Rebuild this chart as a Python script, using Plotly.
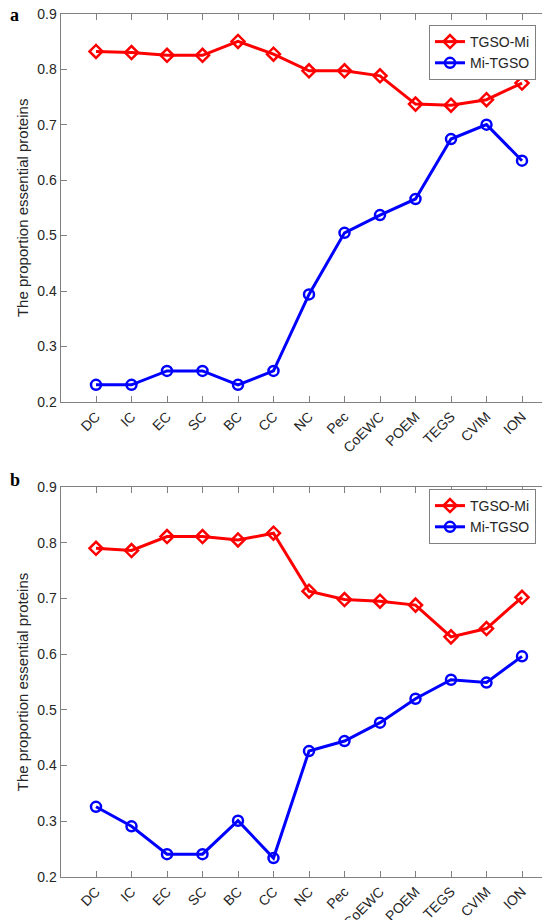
import plotly.graph_objects as go

categories = ["DC", "IC", "EC", "SC", "BC", "CC", "NC", "Pec", "CoEWC", "POEM", "TEGS", "CVIM", "ION"]

a_tgso_mi = [0.832, 0.830, 0.825, 0.825, 0.850, 0.827, 0.797, 0.797, 0.788, 0.737, 0.735, 0.745, 0.775]
a_mi_tgso = [0.231, 0.231, 0.256, 0.256, 0.231, 0.256, 0.394, 0.505, 0.537, 0.566, 0.674, 0.700, 0.635]

b_tgso_mi = [0.790, 0.786, 0.811, 0.811, 0.805, 0.817, 0.713, 0.698, 0.695, 0.688, 0.631, 0.646, 0.702]
b_mi_tgso = [0.326, 0.291, 0.241, 0.241, 0.301, 0.234, 0.426, 0.444, 0.477, 0.520, 0.554, 0.549, 0.596]

y_ticks = [0.2, 0.3, 0.4, 0.5, 0.6, 0.7, 0.8, 0.9]
y_title = "The proportion essential proteins"

xpos = list(range(1, len(categories) + 1))

FONT = "Liberation Sans, Arial, sans-serif"
TXT = "#262626"
AX = "#808080"

fig = go.Figure()

def add_pair(tg, mi, xa, ya, leg):
    fig.add_trace(go.Scatter(
        x=xpos, y=tg, name="TGSO-Mi", mode="lines+markers",
        line=dict(color="#ff0000", width=3),
        marker=dict(symbol="diamond-open", size=10, color="#ff0000", line=dict(width=2.5, color="#ff0000")),
        xaxis=xa, yaxis=ya, legend=leg, showlegend=True))
    fig.add_trace(go.Scatter(
        x=xpos, y=mi, name="Mi-TGSO", mode="lines+markers",
        line=dict(color="#0000ff", width=3),
        marker=dict(symbol="circle-open", size=10, color="#0000ff", line=dict(width=2.5, color="#0000ff")),
        xaxis=xa, yaxis=ya, legend=leg, showlegend=True))

add_pair(a_tgso_mi, a_mi_tgso, "x", "y", "legend")
add_pair(b_tgso_mi, b_mi_tgso, "x2", "y2", "legend2")

W, H = 550, 920
xdom = [52.5 / W, 549.5 / W]
ydom_a = [1 - 394 / H, 1 - 5.7 / H]
ydom_b = [1 - 869 / H, 1 - 479 / H]

xaxis_common = dict(
    range=[0, 14], tickmode="array", tickvals=xpos, ticktext=categories,
    tickangle=-45, ticks="inside", ticklen=6, tickcolor=AX, showline=True,
    linecolor=AX, linewidth=1, mirror="ticks", showgrid=False, zeroline=False,
    tickfont=dict(family=FONT, size=14, color=TXT), domain=xdom, automargin=False,
    ticklabeloverflow="allow",
)
yaxis_common = dict(
    range=[0.2, 0.9], tickmode="array", tickvals=y_ticks,
    ticktext=[str(v) for v in y_ticks],
    ticks="inside", ticklen=6, tickcolor=AX, showline=True,
    linecolor=AX, linewidth=1, mirror="ticks", showgrid=False, zeroline=False,
    tickfont=dict(family=FONT, size=14, color=TXT), automargin=False,
    ticklabeloverflow="allow",
    title=dict(text=y_title, font=dict(family=FONT, size=15, color=TXT), standoff=4),
)

legend_common = dict(
    xanchor="left", yanchor="top", bgcolor="white",
    bordercolor=AX, borderwidth=1,
    font=dict(family=FONT, size=14, color=TXT),
    tracegroupgap=0,
)

fig.update_layout(
    width=W, height=H,
    margin=dict(l=0, r=0, t=0, b=0),
    paper_bgcolor="white", plot_bgcolor="white",
    xaxis=dict(**xaxis_common, anchor="y"),
    yaxis=dict(**yaxis_common, domain=ydom_a, anchor="x"),
    xaxis2=dict(**xaxis_common, anchor="y2"),
    yaxis2=dict(**yaxis_common, domain=ydom_b, anchor="x2"),
    legend=dict(**legend_common, x=421 / W, y=1 - 17 / H),
    legend2=dict(**legend_common, x=421 / W, y=1 - 481 / H),
    annotations=[
        dict(text="<b>a</b>", x=0, y=1 - 7.5 / H, xref="paper", yref="paper", xanchor="left", yanchor="middle",
             showarrow=False, font=dict(family="Liberation Serif, Times New Roman, serif", size=18, color="black")),
        dict(text="<b>b</b>", x=0, y=1 - 472 / H, xref="paper", yref="paper", xanchor="left", yanchor="middle",
             showarrow=False, font=dict(family="Liberation Serif, Times New Roman, serif", size=18, color="black")),
    ],
)

fig.write_html("out.html")
